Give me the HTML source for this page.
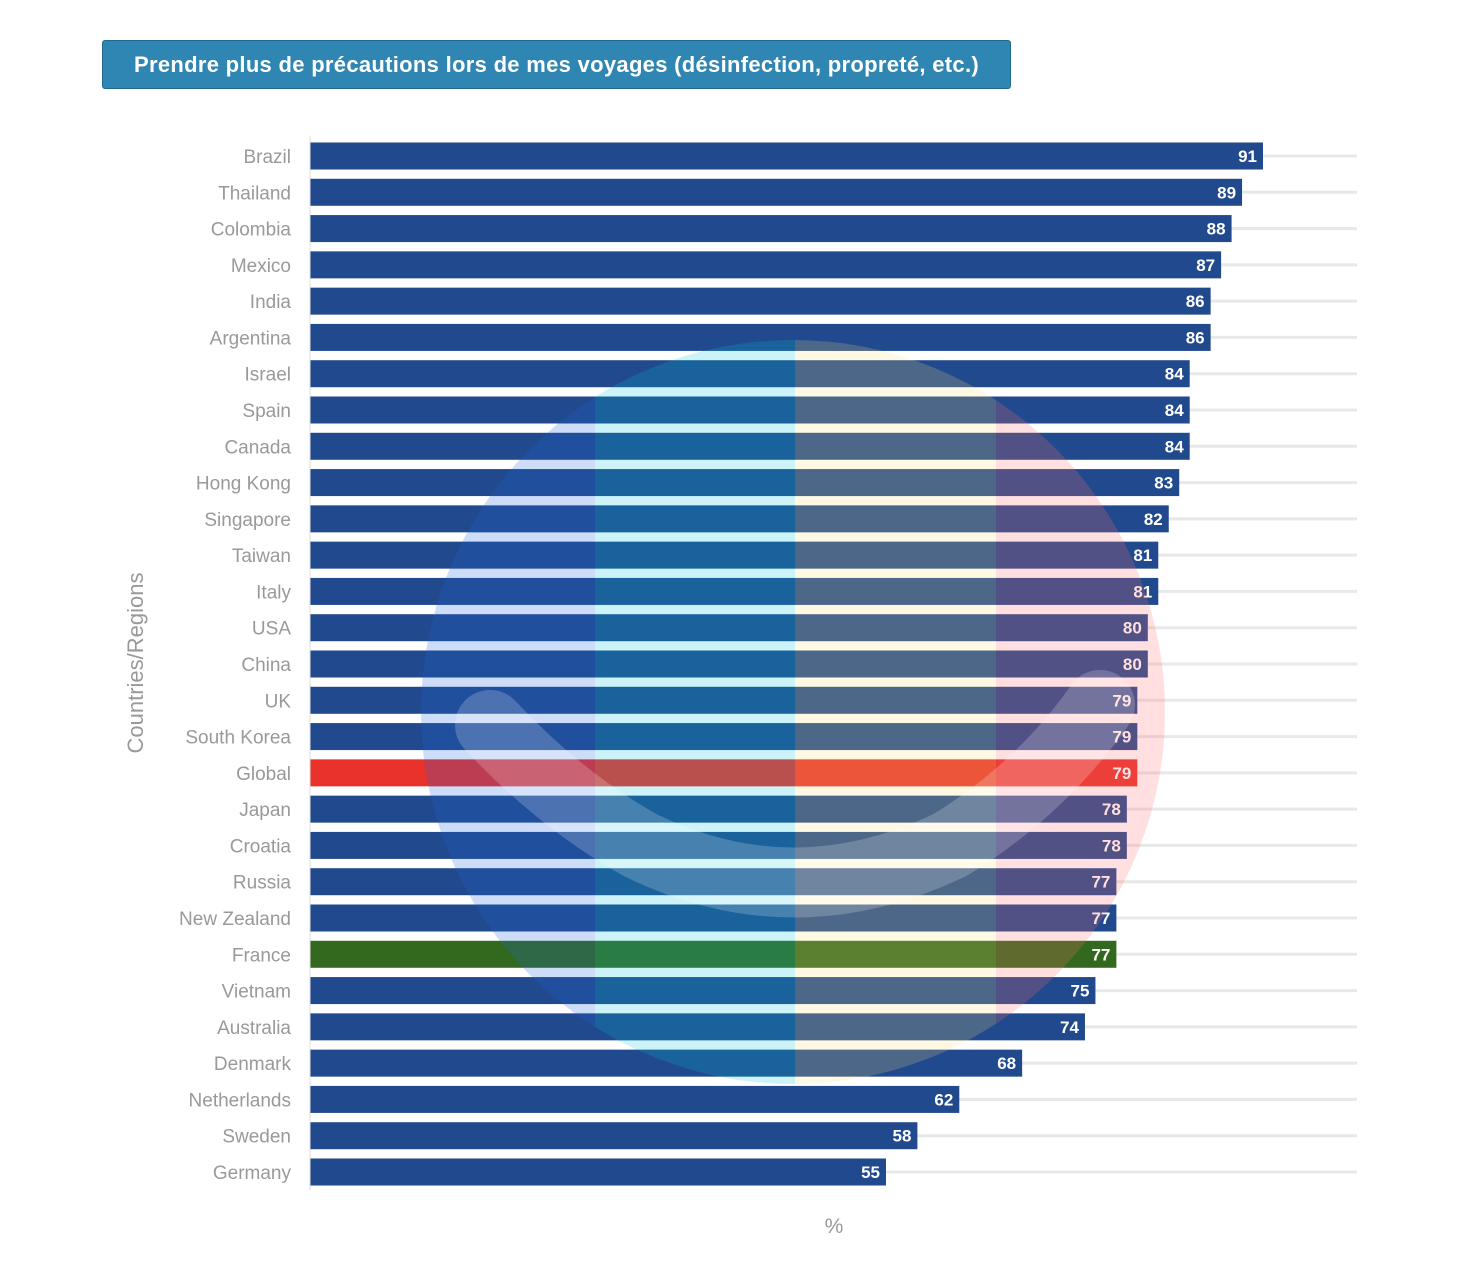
<!DOCTYPE html>
<html><head><meta charset="utf-8">
<style>
body{margin:0;background:#fff;font-family:"Liberation Sans",sans-serif;}
#wrap{position:relative;width:1482px;height:1288px;overflow:hidden;}
#title{position:absolute;left:102px;top:40px;width:907px;height:47px;background:#2f86b2;border:1px solid #1f6a90;border-radius:3px;color:#fff;font-weight:bold;font-size:22px;line-height:47px;text-align:center;letter-spacing:0.3px;}
</style></head><body>
<div id="wrap">
<div id="title">Prendre plus de précautions lors de mes voyages (désinfection, propreté, etc.)</div>
<svg id="chart" width="1482" height="1288" style="position:absolute;left:0;top:0">
<defs><clipPath id="cc"><circle cx="793" cy="712" r="372"/></clipPath></defs>
<g id="grid"></g><g id="bars"></g><g id="labels"></g>
<line x1="310" y1="136" x2="310" y2="1190" stroke="#ddd" stroke-width="1"/>
<g clip-path="url(#cc)">
<rect x="420" y="340" width="175" height="750" fill="rgba(30,100,220,0.22)"/>
<rect x="595" y="340" width="200" height="750" fill="rgba(0,200,220,0.2)"/>
<rect x="795" y="340" width="201" height="750" fill="rgba(255,225,120,0.2)"/>
<rect x="996" y="340" width="170" height="750" fill="rgba(255,110,110,0.22)"/>
<path d="M490,725 Q560,800 640,845 Q793,920 950,845 Q1040,790 1100,705" fill="none" stroke="rgba(255,255,255,0.2)" stroke-width="70" stroke-linecap="round"/>
</g>
<text x="834" y="1233" font-size="21" fill="#999" text-anchor="middle">%</text>
<text transform="translate(143,663) rotate(-90)" font-size="22" fill="#999" text-anchor="middle">Countries/Regions</text>
</svg>
</div>
<script>
const categories=["Brazil","Thailand","Colombia","Mexico","India","Argentina","Israel","Spain","Canada","Hong Kong","Singapore","Taiwan","Italy","USA","China","UK","South Korea","Global","Japan","Croatia","Russia","New Zealand","France","Vietnam","Australia","Denmark","Netherlands","Sweden","Germany"];
const values=[91,89,88,87,86,86,84,84,84,83,82,81,81,80,80,79,79,79,78,78,77,77,77,75,74,68,62,58,55];
const x0=310, pxPer=953/91, y0=156, step=(1172-156)/28, bh=27;
const xs=v=>x0+v*pxPer, ys=i=>y0+i*step;
const NS="http://www.w3.org/2000/svg";
const g=document.getElementById('grid'),b=document.getElementById('bars'),l=document.getElementById('labels');
categories.forEach((c,i)=>{
 const y=ys(i);
 const gl=document.createElementNS(NS,'line');
 gl.setAttribute('x1',x0);gl.setAttribute('x2',1357);gl.setAttribute('y1',y);gl.setAttribute('y2',y);
 gl.setAttribute('stroke','#e8e8e8');gl.setAttribute('stroke-width','3');
 
 
 g.appendChild(gl);
 const r=document.createElementNS(NS,'rect');
 r.setAttribute('x',x0);r.setAttribute('y',y-bh/2);r.setAttribute('width',xs(values[i])-x0);r.setAttribute('height',bh);
 r.setAttribute('fill',c==='Global'?'#e8322b':c==='France'?'#33691e':'#21498d');
 
 
 b.appendChild(r);
 const t=document.createElementNS(NS,'text');
 t.setAttribute('x',xs(values[i])-6);t.setAttribute('y',y+6);t.setAttribute('text-anchor','end');
 t.setAttribute('fill','#fff');t.setAttribute('font-weight','bold');t.setAttribute('font-size','17');
 t.textContent=values[i];
 
 
 l.appendChild(t);
 const ct=document.createElementNS(NS,'text');
 ct.setAttribute('x',291);ct.setAttribute('y',y+7);ct.setAttribute('text-anchor','end');
 ct.setAttribute('fill','#999');ct.setAttribute('font-size','19');
 ct.textContent=c;
 
 
 l.appendChild(ct);
});
</script>
</body></html>
